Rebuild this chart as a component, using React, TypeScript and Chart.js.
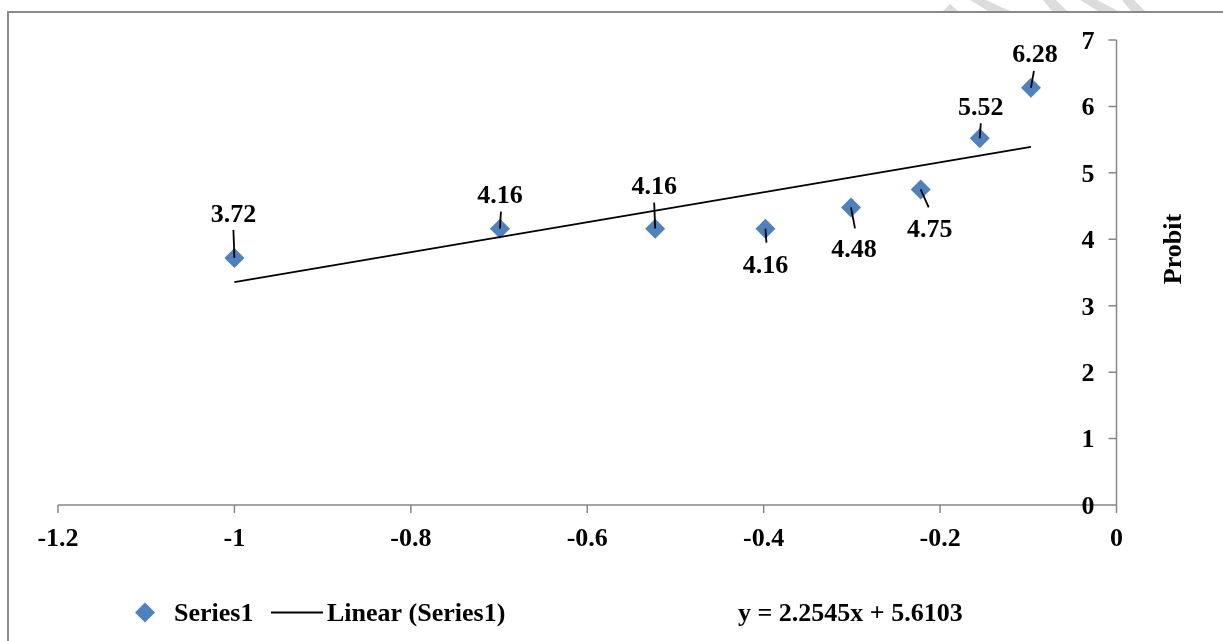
import React, { useEffect, useRef } from "react";
import { Chart, registerables } from "chart.js";

Chart.register(...registerables);

// ---- data ----
const logDose = [-1, -0.699, -0.523, -0.398, -0.301, -0.222, -0.155, -0.097];
const probit = [3.72, 4.16, 4.16, 4.16, 4.48, 4.75, 5.52, 6.28];
const pointLabels = ["3.72", "4.16", "4.16", "4.16", "4.48", "4.75", "5.52", "6.28"];
const xTicks = [-1.2, -1, -0.8, -0.6, -0.4, -0.2, 0];
const xTickLabels = ["-1.2", "-1", "-0.8", "-0.6", "-0.4", "-0.2", "0"];
const yTicks = [0, 1, 2, 3, 4, 5, 6, 7];
const yTickLabels = ["0", "1", "2", "3", "4", "5", "6", "7"];
const trendSlope = 2.2545;
const trendIntercept = 5.6103;
const trendX = [-1, -0.097];
const seriesName = "Series1";
const trendName = "Linear (Series1)";
const equationText = "y = 2.2545x + 5.6103";
const yTitle = "Probit";

// ---- styling (label placement offsets in px, relative to each point) ----
const labelOffsets = [[-1, -45], [0, -34], [-1, -43], [0, 36], [3, 41], [9, 39], [1, -32], [4, -35]];
const leaderEnds = [[-1, -28], [1, -17], [-1, -26], [1, 14], [4, 21], [8, 18], [1, -15], [3, -17]];

const FONT = 'bold 26px "Liberation Serif", "Times New Roman", serif';
const AXIS = "#868686";
const BLUE = "#4f81bd";
const W = 1223;
const H = 641;
const CAP = 8.8;

const decor = {
  id: "decor",
  beforeDatasetsDraw(chart: any) {
    const { ctx } = chart;
    const xs = chart.scales.x;
    const ys = chart.scales.y;
    ctx.save();
    // faint watermark fragments above the frame
    ctx.save();
    ctx.beginPath();
    ctx.rect(0, 0, W, 11);
    ctx.clip();
    ctx.fillStyle = "#dcdcdc";
    const shapes = [
      [[943, 11], [950, 4], [958, 11]],
      [[970, 0], [986, 0], [1010, 11], [988, 11]],
      [[1043, 0], [1056, 0], [1067, 11], [1052, 11]],
      [[1080, 0], [1097, 0], [1118, 11], [1098, 11]],
      [[1122, 0], [1134, 0], [1145, 11], [1131, 11]],
    ];
    for (const s of shapes) {
      ctx.beginPath();
      ctx.moveTo(s[0][0], s[0][1]);
      for (let i = 1; i < s.length; i++) ctx.lineTo(s[i][0], s[i][1]);
      ctx.closePath();
      ctx.fill();
    }
    ctx.restore();
    // frame
    ctx.strokeStyle = "#8a8a8a";
    ctx.lineWidth = 2;
    ctx.beginPath();
    ctx.moveTo(8, H);
    ctx.lineTo(8, 12);
    ctx.lineTo(W, 12);
    ctx.stroke();

    const x0 = xs.getPixelForValue(0);
    const y0 = ys.getPixelForValue(0);
    ctx.strokeStyle = AXIS;
    ctx.lineWidth = 1.5;
    // x axis
    ctx.beginPath();
    ctx.moveTo(xs.getPixelForValue(xTicks[0]), y0);
    ctx.lineTo(x0, y0);
    for (const t of xTicks) {
      const px = xs.getPixelForValue(t);
      ctx.moveTo(px, y0);
      ctx.lineTo(px, y0 + 8);
    }
    // y axis
    ctx.moveTo(x0, ys.getPixelForValue(yTicks[yTicks.length - 1]));
    ctx.lineTo(x0, y0);
    for (const t of yTicks) {
      const py = ys.getPixelForValue(t);
      ctx.moveTo(x0 - 8, py);
      ctx.lineTo(x0, py);
    }
    ctx.stroke();

    ctx.fillStyle = "#000";
    ctx.font = FONT;
    ctx.textBaseline = "alphabetic";
    ctx.textAlign = "center";
    xTicks.forEach((t, i) => {
      ctx.fillText(xTickLabels[i], xs.getPixelForValue(t), y0 + 32 + CAP);
    });
    ctx.textAlign = "right";
    yTicks.forEach((t, i) => {
      ctx.fillText(yTickLabels[i], x0 - 22, ys.getPixelForValue(t) + CAP);
    });
    // y title
    ctx.save();
    ctx.translate(1172.5 + CAP, 249);
    ctx.rotate(-Math.PI / 2);
    ctx.textAlign = "center";
    ctx.fillText(yTitle, 0, 0);
    ctx.restore();
    ctx.restore();
  },
  afterDatasetsDraw(chart: any) {
    const { ctx } = chart;
    const xs = chart.scales.x;
    const ys = chart.scales.y;
    ctx.save();
    ctx.strokeStyle = "#000";
    ctx.lineWidth = 1.8;
    ctx.fillStyle = "#000";
    ctx.font = FONT;
    ctx.textAlign = "center";
    ctx.textBaseline = "alphabetic";
    logDose.forEach((xv, i) => {
      const px = xs.getPixelForValue(xv);
      const py = ys.getPixelForValue(probit[i]);
      ctx.beginPath();
      ctx.moveTo(px, py);
      ctx.lineTo(px + leaderEnds[i][0], py + leaderEnds[i][1]);
      ctx.stroke();
      ctx.fillText(pointLabels[i], px + labelOffsets[i][0], py + labelOffsets[i][1] + CAP);
    });
    ctx.restore();
  },
  afterDraw(chart: any) {
    const { ctx } = chart;
    ctx.save();
    const ly = 612.5;
    // legend diamond
    ctx.fillStyle = BLUE;
    ctx.beginPath();
    ctx.moveTo(145, ly - 10);
    ctx.lineTo(155, ly);
    ctx.lineTo(145, ly + 10);
    ctx.lineTo(135, ly);
    ctx.closePath();
    ctx.fill();
    ctx.fillStyle = "#000";
    ctx.font = FONT;
    ctx.textAlign = "left";
    ctx.textBaseline = "alphabetic";
    ctx.fillText(seriesName, 174, ly + CAP);
    ctx.strokeStyle = "#000";
    ctx.lineWidth = 1.8;
    ctx.beginPath();
    ctx.moveTo(271, ly);
    ctx.lineTo(323, ly);
    ctx.stroke();
    ctx.fillText(trendName, 327, ly + CAP);
    ctx.fillText(equationText, 738, ly + CAP);
    ctx.restore();
  },
};

export default function App() {
  const ref = useRef<HTMLCanvasElement | null>(null);
  useEffect(() => {
    document.body.style.margin = "0";
    const canvas = ref.current;
    if (!canvas) return;
    const chart = new Chart(canvas, {
      type: "scatter",
      data: {
        datasets: [
          {
            label: trendName,
            data: trendX.map((v) => ({ x: v, y: trendSlope * v + trendIntercept })),
            showLine: true,
            borderColor: "#000",
            borderWidth: 1.8,
            pointRadius: 0,
            order: 0,
          },
          {
            label: seriesName,
            data: logDose.map((v, i) => ({ x: v, y: probit[i] })),
            showLine: false,
            pointStyle: "rectRot",
            pointRadius: 10,
            backgroundColor: BLUE,
            borderColor: BLUE,
            borderWidth: 0,
            order: 1,
          },
        ],
      },
      options: {
        animation: false,
        responsive: false,
        devicePixelRatio: 1,
        layout: { padding: { left: 58, right: W - 1116.5, top: 40, bottom: H - 505 } },
        plugins: { legend: { display: false }, tooltip: { enabled: false } },
        scales: {
          x: { type: "linear", min: -1.2, max: 0, display: false },
          y: { type: "linear", min: 0, max: 7, display: false },
        },
        clip: false as any,
      },
      plugins: [decor],
    });
    return () => chart.destroy();
  }, []);
  return <canvas ref={ref} width={W} height={H} style={{ display: "block" }} />;
}
